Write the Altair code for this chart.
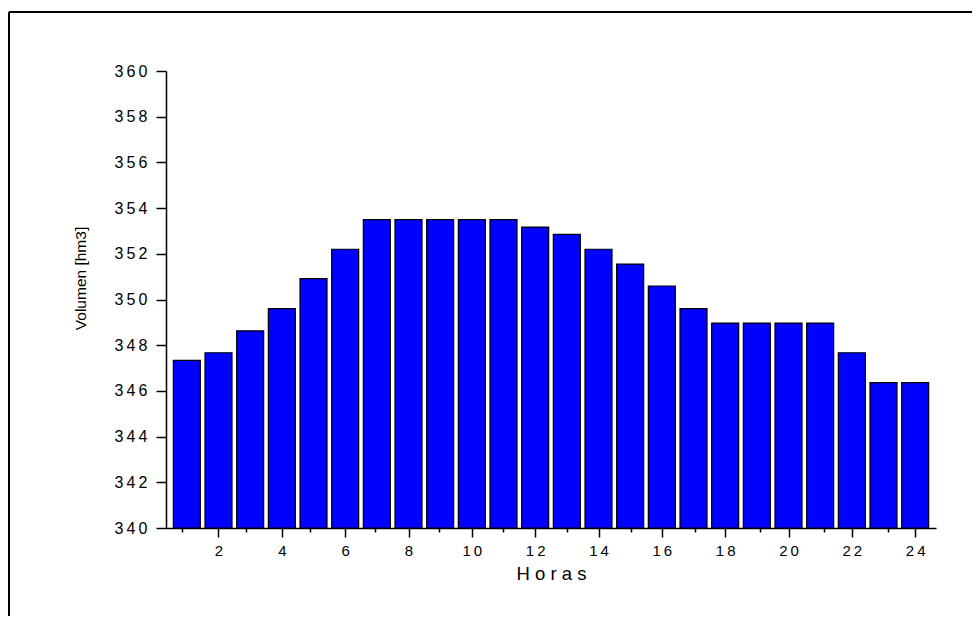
import altair as alt
import pandas as pd

horas = list(range(1, 25))
volumen = [347.34, 347.67, 348.63, 349.6, 350.91, 352.2, 353.5, 353.5, 353.5, 353.5,
           353.5, 353.17, 352.85, 352.2, 351.55, 350.59, 349.6, 348.97, 348.97, 348.97,
           348.97, 347.67, 346.36, 346.36]
x_major = [2, 4, 6, 8, 10, 12, 14, 16, 18, 20, 22, 24]
x_minor = [1, 3, 5, 7, 9, 11, 13, 15, 17, 19, 21, 23]
y_ticks = [340, 342, 344, 346, 348, 350, 352, 354, 356, 358, 360]

df = pd.DataFrame({"hora": horas, "vol": volumen, "base": [340] * len(horas)})

FONT = "Liberation Sans"
spaced = "join(split(datum.label, ''), '\u2009')"

xscale = alt.Scale(domain=[0.5, 24.5], nice=False, zero=False)
yscale = alt.Scale(domain=[340, 360], nice=False, zero=False)

bars = alt.Chart(df).mark_bar(size=27, color="#0000FF", stroke="black", strokeWidth=1.2).encode(
    x=alt.X("hora:Q", scale=xscale,
            axis=alt.Axis(orient="bottom", values=x_major, title="H o r a s", grid=False,
                          tickSize=9, tickWidth=1.5, tickColor="black", domainColor="black",
                          domainWidth=1.5, labelFont=FONT, labelFontSize=15, labelColor="black",
                          labelPadding=6, labelExpr=spaced, titleFont=FONT, titleFontSize=18.5,
                          titleFontWeight="normal", titleColor="black", titleBaseline="alphabetic",
                          titleY=51)),
    y=alt.Y("vol:Q", scale=yscale,
            axis=alt.Axis(values=y_ticks, title="Volumen [hm3]", grid=False, tickSize=10,
                          tickWidth=1.5, tickColor="black", domainColor="black", domainWidth=1.5,
                          labelFont=FONT, labelFontSize=16, labelColor="black", labelPadding=9,
                          labelExpr=spaced, titleFont=FONT, titleFontSize=15.5,
                          titleFontWeight="normal", titleColor="black", titleBaseline="alphabetic",
                          titleX=-81, titleY=207)),
    y2=alt.Y2("base:Q"),
)

minor = alt.Chart(df).mark_point(opacity=0).encode(
    x=alt.X("hora:Q", scale=xscale,
            axis=alt.Axis(orient="bottom", values=x_minor, title=None, labels=False, grid=False,
                          domain=False, tickSize=4, tickWidth=1.5, tickColor="black")),
)

frame_top = alt.Chart(df.head(1)).mark_rule(color="black", strokeWidth=2).encode(
    x=alt.value(-157), x2=alt.value(2000), y=alt.value(-59))
frame_left = alt.Chart(df.head(1)).mark_rule(color="black", strokeWidth=2).encode(
    x=alt.value(-157), y=alt.value(-59), y2=alt.value(1000))

chart = alt.layer(frame_top, frame_left, bars, minor).resolve_scale(x="independent").properties(
    width=770, height=457,
    autosize=alt.AutoSizeParams(type="none"),
    padding={"left": 158, "top": 63, "right": 36, "bottom": 88},
).configure(background="white", view=alt.ViewConfig(stroke="transparent", strokeWidth=0))

chart.save("out.html", embed_options={"renderer": "svg", "actions": False})
